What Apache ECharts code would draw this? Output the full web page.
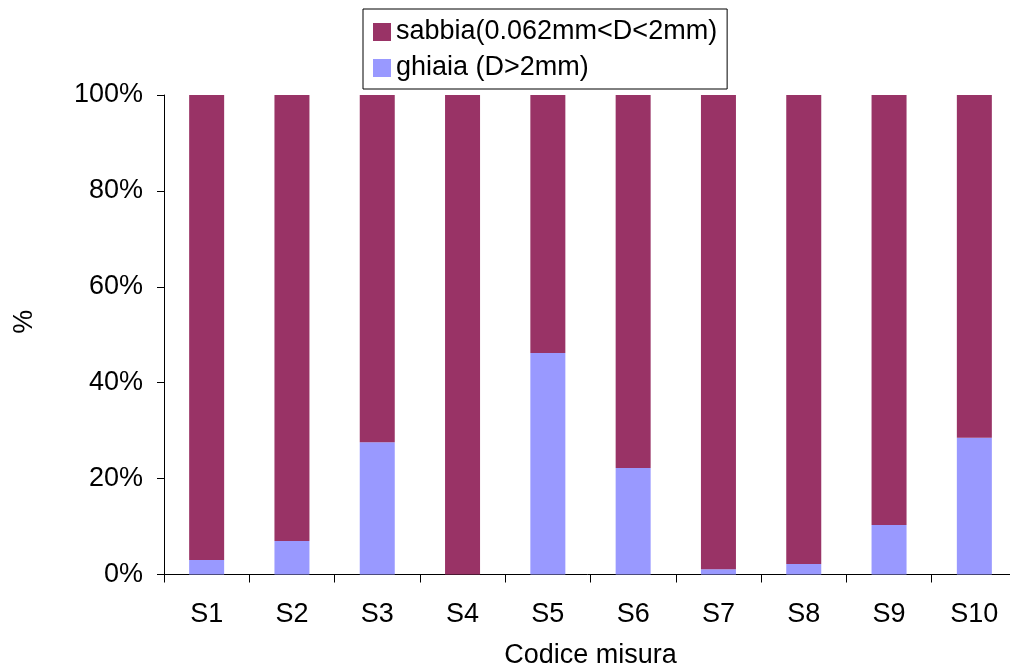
<!DOCTYPE html>
<html>
<head>
<meta charset="utf-8">
<script src="https://cdn.jsdelivr.net/npm/echarts@6/dist/echarts.min.js"></script>
<style>
  html, body { margin: 0; padding: 0; background: #fff; }
  #chart { width: 1010px; height: 668px; }
</style>
</head>
<body>
<div id="chart"></div>
<script>
// Sample codes along the x axis
const categories = ['S1', 'S2', 'S3', 'S4', 'S5', 'S6', 'S7', 'S8', 'S9', 'S10'];
// Gravel share (D > 2 mm), percent
const ghiaia = [3.0, 7.0, 27.6, 0, 46.2, 22.2, 1.1, 2.2, 10.3, 28.5];
// Sand share (0.062 mm < D < 2 mm), percent
const sabbia = [97.0, 93.0, 72.4, 100, 53.8, 77.8, 98.9, 97.8, 89.7, 71.5];
// Y tick values
const yTicks = [0, 20, 40, 60, 80, 100];

const FONT = '"Liberation Sans", Arial, sans-serif';
const FS = 27;
const chart = echarts.init(document.getElementById('chart'), null, { renderer: 'canvas' });

chart.setOption({
  animation: false,
  backgroundColor: '#ffffff',
  textStyle: { fontFamily: FONT, color: '#000' },
  // plot area runs a little past the right edge of the page
  grid: {
    left: 164, width: 853, top: 95, height: 479.5,
    containLabel: false,
    outerBoundsMode: 'none'
  },
  legend: {
    orient: 'vertical',
    left: 363,
    top: 9,
    padding: [8, 10, 6, 10],
    itemGap: 6,
    itemWidth: 18,
    itemHeight: 18,
    itemTextGap: 5,
    borderColor: '#000',
    borderWidth: 1,
    icon: 'rect',
    textStyle: { fontFamily: FONT, fontSize: FS, color: '#000', lineHeight: 30 },
    data: ['sabbia(0.062mm<D<2mm)', 'ghiaia (D>2mm)']
  },
  xAxis: {
    type: 'category',
    data: categories,
    name: 'Codice misura',
    nameLocation: 'middle',
    nameGap: 68,
    nameTextStyle: { fontFamily: FONT, fontSize: FS, color: '#000' },
    axisLine: { lineStyle: { color: '#000', width: 1 } },
    axisTick: { show: true, length: 8, alignWithLabel: false, lineStyle: { color: '#000' } },
    axisLabel: { fontFamily: FONT, fontSize: FS, color: '#000', margin: 27 },
    splitLine: { show: false }
  },
  yAxis: {
    type: 'value',
    min: yTicks[0],
    max: yTicks[yTicks.length - 1],
    interval: yTicks[1] - yTicks[0],
    name: '%',
    nameLocation: 'middle',
    nameGap: 126,
    nameTextStyle: { fontFamily: FONT, fontSize: FS, color: '#000', padding: [0, 0, 0, 26] },
    axisLine: { show: true, lineStyle: { color: '#000', width: 1 } },
    axisTick: { show: true, length: 7, lineStyle: { color: '#000' } },
    axisLabel: { fontFamily: FONT, fontSize: FS, color: '#000', margin: 21, formatter: '{value}%' },
    splitLine: { show: false }
  },
  series: [
    {
      name: 'ghiaia (D>2mm)',
      type: 'bar',
      stack: 'tot',
      barWidth: 35,
      itemStyle: { color: '#9999FF' },
      data: ghiaia
    },
    {
      name: 'sabbia(0.062mm<D<2mm)',
      type: 'bar',
      stack: 'tot',
      barWidth: 35,
      itemStyle: { color: '#993366' },
      data: sabbia
    }
  ]
});
</script>
</body>
</html>
